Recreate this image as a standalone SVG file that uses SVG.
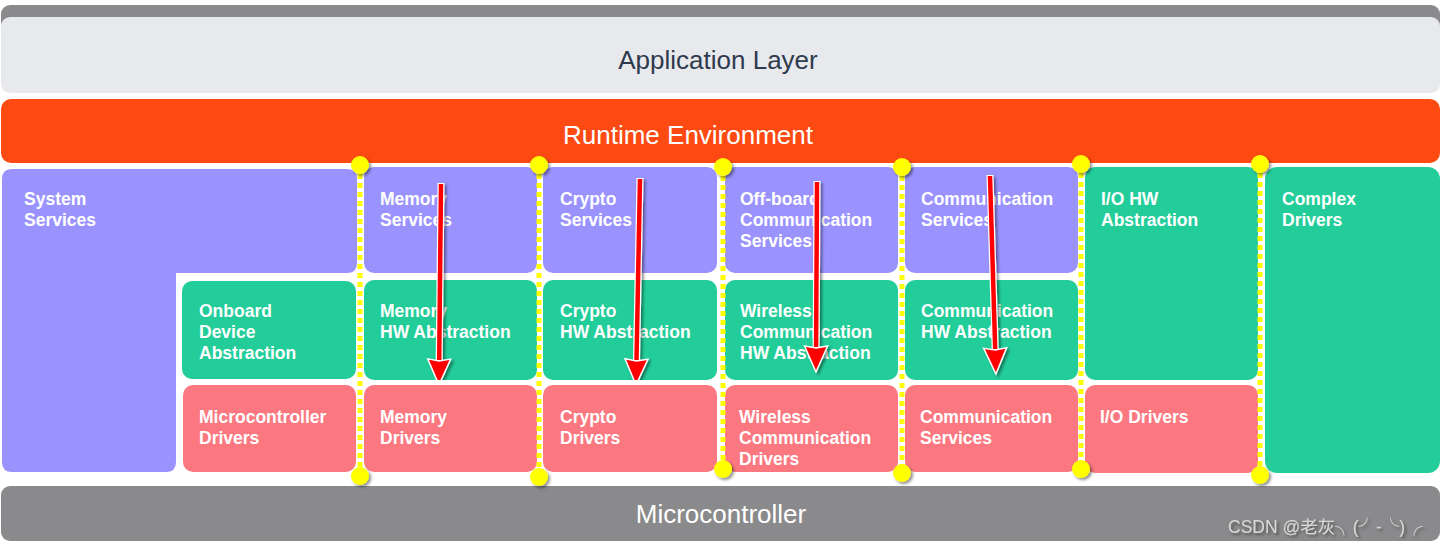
<svg xmlns="http://www.w3.org/2000/svg" width="1447" height="547" viewBox="0 0 1447 547">
<defs>
<filter id="sh" x="-50%" y="-10%" width="200%" height="120%"><feDropShadow dx="2" dy="2" stdDeviation="1.5" flood-color="#000" flood-opacity="0.45"/></filter>
<filter id="blur" x="-200%" y="-5%" width="500%" height="110%"><feGaussianBlur stdDeviation="1.6"/></filter>
<marker id="head" markerUnits="userSpaceOnUse" markerWidth="30" markerHeight="30" refX="0" refY="0" orient="auto" overflow="visible">
<path d="M-1,-11.5 L25,0 L-1,11.5 L1,0 Z" fill="#f00" stroke="#fff" stroke-width="1.5" stroke-linejoin="miter"/>
</marker>
<style>
.lbl{font-family:"Liberation Sans",Arial,sans-serif;font-weight:bold;font-size:17.5px;fill:#fff}
.big{font-family:"Liberation Sans",Arial,sans-serif;font-size:26px;text-anchor:middle}
.svc{fill:#9a93fe}
.hw{fill:#23cd9a}
.drv{fill:#fc7881}
.vshadow{stroke:#555;stroke-width:7;opacity:0.55;fill:none}
.vdot{stroke:#ffff00;stroke-width:5;stroke-dasharray:5 4;fill:none}
.dot{fill:#ffff00}
.ashaft{stroke:#fff;stroke-width:7;fill:none}
.ared{stroke:#f00;stroke-width:4.5;fill:none}
</style>
</defs>
<rect width="1447" height="547" fill="#fff"/>

<g id="application-layer">
<rect x="1" y="5" width="1439" height="40" rx="9" fill="#8a8a8c"/>
<rect x="1" y="17" width="1439" height="76" rx="9" fill="#e8e9ed"/>
<text class="big" x="718" y="69" fill="#2e3a4e">Application Layer</text>
</g>

<g id="runtime-environment">
<rect x="1" y="99" width="1439" height="64" rx="10" fill="#fc4a12"/>
<text class="big" x="688" y="144" fill="#fff">Runtime Environment</text>
</g>

<g id="microcontroller">
<rect x="1" y="486" width="1439" height="55" rx="9" fill="#8a8a8c"/>
<text class="big" x="721" y="523" fill="#fff">Microcontroller</text>
</g>

<g id="system-services">
<path class="svc" d="M12,169 H347 Q357,169 357,179 V263 Q357,273 347,273 H176 V462 Q176,472 166,472 H12 Q2,472 2,462 V179 Q2,169 12,169 Z"/>
<text class="lbl" x="24" y="205">System</text>
<text class="lbl" x="24" y="226">Services</text>
</g>

<g id="onboard-device-abstraction">
<rect class="hw" x="182" y="281" width="174" height="98" rx="10"/>
<text class="lbl" x="199" y="317">Onboard</text>
<text class="lbl" x="199" y="338">Device</text>
<text class="lbl" x="199" y="359">Abstraction</text>
</g>

<g id="microcontroller-drivers">
<rect class="drv" x="183" y="385" width="173" height="87" rx="10"/>
<text class="lbl" x="199" y="423">Microcontroller</text>
<text class="lbl" x="199" y="444">Drivers</text>
</g>

<g id="memory-services">
<rect class="svc" x="364" y="167" width="173" height="106" rx="10"/>
<text class="lbl" x="380" y="205">Memory</text>
<text class="lbl" x="380" y="226">Services</text>
</g>
<g id="memory-hw-abstraction">
<rect class="hw" x="364" y="280" width="173" height="100" rx="10"/>
<text class="lbl" x="380" y="317">Memory</text>
<text class="lbl" x="380" y="338">HW Abstraction</text>
</g>
<g id="memory-drivers">
<rect class="drv" x="364" y="385" width="173" height="87" rx="10"/>
<text class="lbl" x="380" y="423">Memory</text>
<text class="lbl" x="380" y="444">Drivers</text>
</g>

<g id="crypto-services">
<rect class="svc" x="543" y="167" width="174" height="106" rx="10"/>
<text class="lbl" x="560" y="205">Crypto</text>
<text class="lbl" x="560" y="226">Services</text>
</g>
<g id="crypto-hw-abstraction">
<rect class="hw" x="543" y="280" width="174" height="100" rx="10"/>
<text class="lbl" x="560" y="317">Crypto</text>
<text class="lbl" x="560" y="338">HW Abstraction</text>
</g>
<g id="crypto-drivers">
<rect class="drv" x="543" y="385" width="174" height="87" rx="10"/>
<text class="lbl" x="560" y="423">Crypto</text>
<text class="lbl" x="560" y="444">Drivers</text>
</g>

<g id="offboard-communication-services">
<rect class="svc" x="725" y="167" width="173" height="106" rx="10"/>
<text class="lbl" x="740" y="205">Off-board</text>
<text class="lbl" x="740" y="226">Communication</text>
<text class="lbl" x="740" y="247">Services</text>
</g>
<g id="wireless-communication-hw-abstraction">
<rect class="hw" x="725" y="280" width="173" height="100" rx="10"/>
<text class="lbl" x="740" y="317">Wireless</text>
<text class="lbl" x="740" y="338">Communication</text>
<text class="lbl" x="740" y="359">HW Abstraction</text>
</g>
<g id="wireless-communication-drivers">
<rect class="drv" x="725" y="385" width="173" height="87" rx="10"/>
<text class="lbl" x="739" y="423">Wireless</text>
<text class="lbl" x="739" y="444">Communication</text>
<text class="lbl" x="739" y="465">Drivers</text>
</g>

<g id="communication-services">
<rect class="svc" x="905" y="167" width="173" height="106" rx="10"/>
<text class="lbl" x="921" y="205">Communication</text>
<text class="lbl" x="921" y="226">Services</text>
</g>
<g id="communication-hw-abstraction">
<rect class="hw" x="905" y="280" width="173" height="100" rx="10"/>
<text class="lbl" x="921" y="317">Communication</text>
<text class="lbl" x="921" y="338">HW Abstraction</text>
</g>
<g id="communication-drivers">
<rect class="drv" x="905" y="385" width="173" height="87" rx="10"/>
<text class="lbl" x="920" y="423">Communication</text>
<text class="lbl" x="920" y="444">Services</text>
</g>

<g id="io-hw-abstraction">
<rect class="hw" x="1085" y="167" width="173" height="213" rx="10"/>
<text class="lbl" x="1101" y="205">I/O HW</text>
<text class="lbl" x="1101" y="226">Abstraction</text>
</g>
<g id="io-drivers">
<rect class="drv" x="1085" y="385" width="173" height="88" rx="10"/>
<text class="lbl" x="1100" y="423">I/O Drivers</text>
</g>

<g id="complex-drivers">
<rect class="hw" x="1265" y="167" width="175" height="306" rx="12"/>
<text class="lbl" x="1282" y="205">Complex</text>
<text class="lbl" x="1282" y="226">Drivers</text>
</g>

<g id="connectors">
<g id="separators">
<line class="vshadow" x1="361" y1="166" x2="361" y2="477" filter="url(#blur)"/>
<line class="vshadow" x1="540" y1="166" x2="540" y2="478" filter="url(#blur)"/>
<line class="vshadow" x1="724" y1="168" x2="724" y2="470" filter="url(#blur)"/>
<line class="vshadow" x1="903" y1="168" x2="903" y2="474" filter="url(#blur)"/>
<line class="vshadow" x1="1082" y1="165" x2="1082" y2="470" filter="url(#blur)"/>
<line class="vshadow" x1="1261" y1="165" x2="1261" y2="476" filter="url(#blur)"/>
<line class="vdot" x1="360" y1="165" x2="360" y2="476"/>
<line class="vdot" x1="539" y1="165" x2="539" y2="477"/>
<line class="vdot" x1="723" y1="167" x2="723" y2="469"/>
<line class="vdot" x1="902" y1="167" x2="902" y2="473"/>
<line class="vdot" x1="1081" y1="164" x2="1081" y2="469"/>
<line class="vdot" x1="1260" y1="164" x2="1260" y2="475"/>
<g filter="url(#sh)">
<circle class="dot" cx="360" cy="165" r="9"/>
<circle class="dot" cx="539" cy="165" r="9"/>
<circle class="dot" cx="723" cy="167" r="9"/>
<circle class="dot" cx="902" cy="167" r="9"/>
<circle class="dot" cx="1081" cy="164" r="9"/>
<circle class="dot" cx="1260" cy="164" r="9"/>
<circle class="dot" cx="360" cy="476" r="9"/>
<circle class="dot" cx="539" cy="477" r="9"/>
<circle class="dot" cx="723" cy="469" r="9"/>
<circle class="dot" cx="902" cy="473" r="9"/>
<circle class="dot" cx="1081" cy="469" r="9"/>
<circle class="dot" cx="1260" cy="475" r="9"/>
</g>
</g>
<g id="arrows" filter="url(#sh)">
<line class="ashaft" x1="441" y1="183" x2="439.2" y2="361"/>
<line class="ared" x1="441" y1="184" x2="439.2" y2="360" marker-end="url(#head)"/>
<line class="ashaft" x1="640" y1="178" x2="636.5" y2="361"/>
<line class="ared" x1="640" y1="179" x2="636.5" y2="360" marker-end="url(#head)"/>
<line class="ashaft" x1="817" y1="181" x2="816.1" y2="348"/>
<line class="ared" x1="817" y1="182" x2="816.1" y2="347" marker-end="url(#head)"/>
<line class="ashaft" x1="990" y1="175" x2="995.2" y2="350"/>
<line class="ared" x1="990" y1="176" x2="995.2" y2="349" marker-end="url(#head)"/>
</g>
</g>

<text x="1228" y="533" font-family="'Liberation Sans','Noto Sans CJK SC',sans-serif" font-size="17.5" fill="#d8d8d8" filter="url(#sh)">CSDN @老灰╮(╯-╰)╭</text>
</svg>
